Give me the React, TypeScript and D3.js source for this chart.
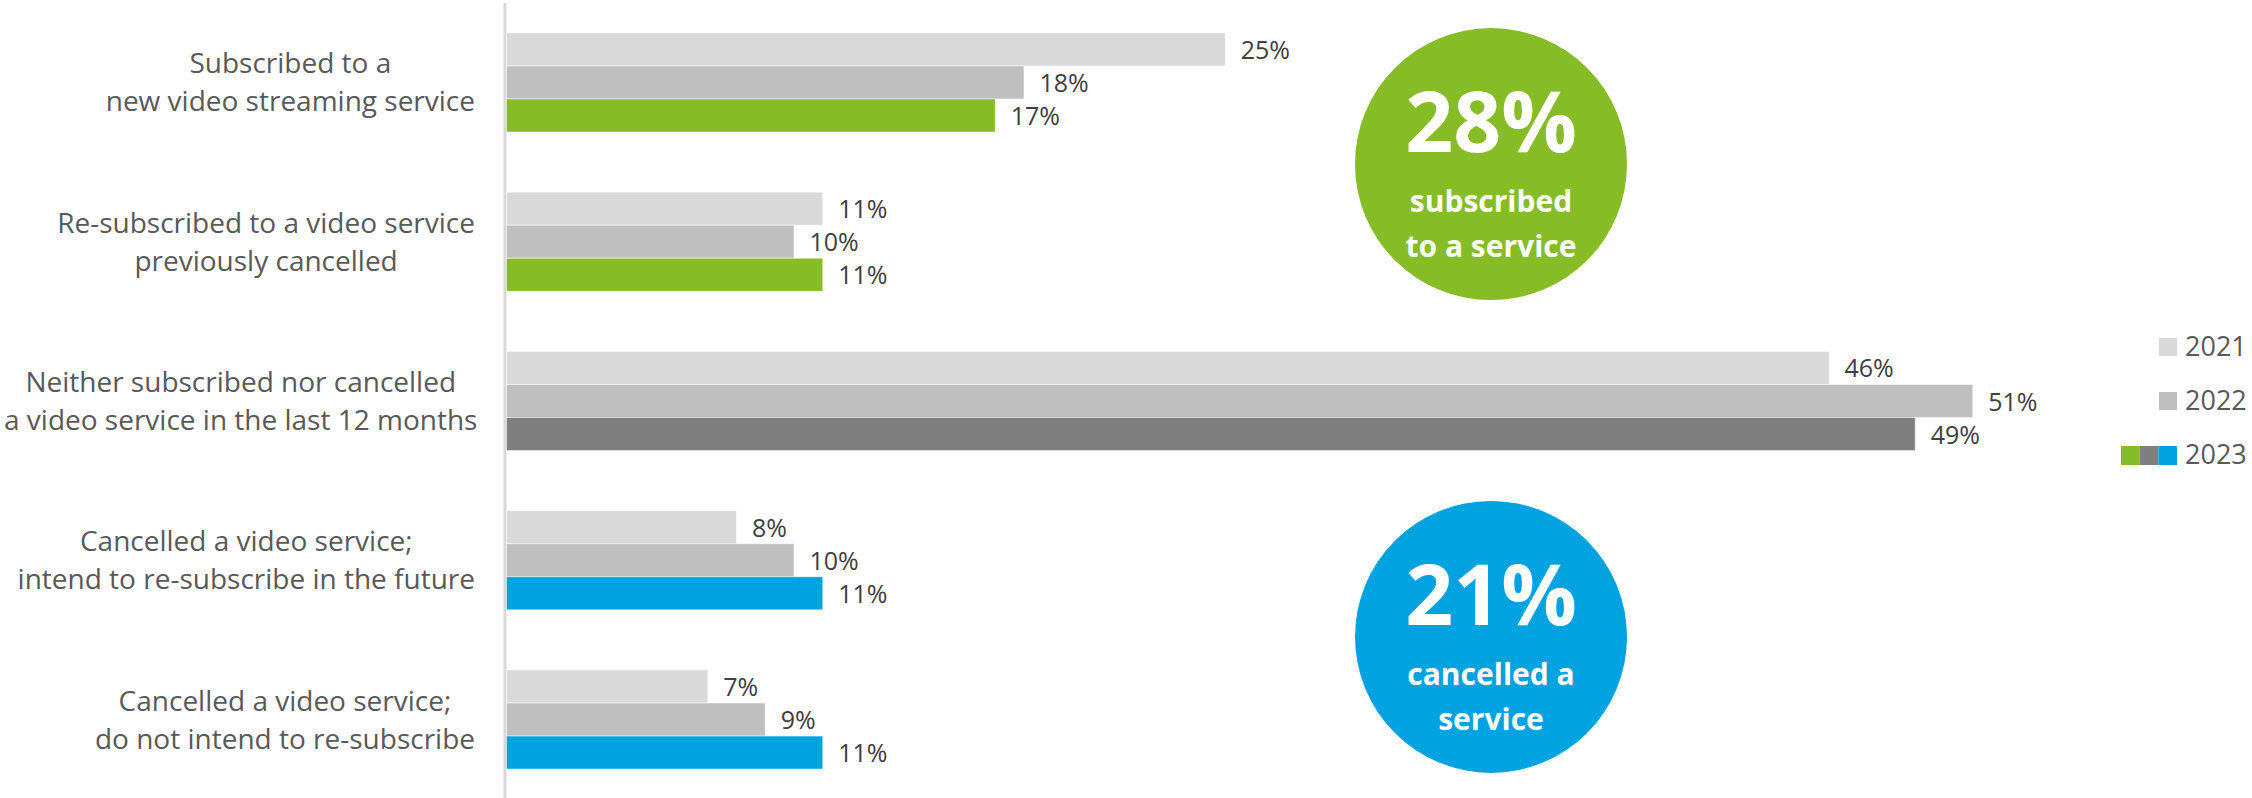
import React, { useEffect, useRef } from "react";
import * as d3 from "d3";

const categories = [
  ["Subscribed to a", "new video streaming service"],
  ["Re-subscribed to a video service", "previously cancelled"],
  ["Neither subscribed nor cancelled", "a video service in the last 12 months"],
  ["Cancelled a video service;", "intend to re-subscribe in the future"],
  ["Cancelled a video service;", "do not intend to re-subscribe"],
];
const series = ["2021", "2022", "2023"];
const values2021 = [25, 11, 46, 8, 7];
const values2022 = [18, 10, 51, 10, 9];
const values2023 = [17, 11, 49, 11, 11];
const colors2023 = ["#86bc25", "#86bc25", "#7f7f7f", "#00a3e0", "#00a3e0"];
const seriesColors = ["#d9d9d9", "#bfbfbf"];
const legendLabels = ["2021", "2022", "2023"];
const circleValues = ["28%", "21%"];
const circleTexts = [
  ["subscribed", "to a service"],
  ["cancelled a", "service"],
];
const circleColors = ["#86bc25", "#00a3e0"];

const W = 2252;
const H = 798;

export default function App() {
  const ref = useRef<SVGSVGElement | null>(null);

  useEffect(() => {
    document.body.style.margin = "0";
    const svg = d3.select(ref.current);
    svg.selectAll("*").remove();

    const font = "'Open Sans', sans-serif";
    const keys = categories.map((_, i) => String(i));
    const x = d3.scaleLinear().domain([0, 60]).range([506, 506 + 28.75 * 60]);
    const y = d3
      .scaleBand<string>()
      .domain(keys)
      .range([3, 799])
      .paddingInner(0.378)
      .paddingOuter(0.188);
    const ys = d3.scaleBand<string>().domain(series).range([0, y.bandwidth()]).padding(0);

    const data = [values2021, values2022, values2023];

    // axis line
    svg
      .append("line")
      .attr("x1", x(0) - 1)
      .attr("x2", x(0) - 1)
      .attr("y1", 3)
      .attr("y2", H)
      .attr("stroke", "#d9d9d9")
      .attr("stroke-width", 3);

    // bars
    const g = svg.append("g");
    keys.forEach((k, ci) => {
      series.forEach((s, si) => {
        const v = data[si][ci];
        const color = si < 2 ? seriesColors[si] : colors2023[ci];
        const y0 = (y(k) as number) + (ys(s) as number);
        g.append("rect")
          .attr("x", x(0) + 0.5)
          .attr("y", y0)
          .attr("width", x(v) - x(0))
          .attr("height", ys.bandwidth())
          .attr("fill", color)
          .attr("stroke", "#ffffff")
          .attr("stroke-opacity", 0.5)
          .attr("stroke-width", 1);
        g.append("text")
          .attr("x", x(v) + 16)
          .attr("y", y0 + ys.bandwidth() / 2 + 9.5)
          .attr("font-family", font)
          .attr("font-size", 25)
          .attr("fill", "#404040")
          .text(`${v}%`);
      });
    });

    // category labels (center-aligned block, right edge at 475)
    keys.forEach((k, ci) => {
      const cy = (y(k) as number) + y.bandwidth() / 2;
      const lines = categories[ci];
      const tg = svg.append("g");
      const texts = lines.map((line, li) =>
        tg
          .append("text")
          .attr("y", cy + (li - (lines.length - 1) / 2) * 38 + 10)
          .attr("font-family", font)
          .attr("font-size", 28)
          .attr("fill", "#595959")
          .attr("text-anchor", "middle")
          .text(line)
      );
      const maxW = d3.max(texts, (t) => (t.node() as SVGTextElement).getComputedTextLength()) || 0;
      const cxl = Math.max(475 - maxW / 2, maxW / 2 + 4);
      texts.forEach((t) => t.attr("x", cxl));
    });

    // circles
    const circleCenters = [
      ((y("0") as number) + (y("1") as number)) / 2 + y.bandwidth() / 2 + 2,
      ((y("3") as number) + (y("4") as number)) / 2 + y.bandwidth() / 2 - 3,
    ];
    circleCenters.forEach((cy, i) => {
      const cx = 1491;
      svg.append("circle").attr("cx", cx).attr("cy", cy).attr("r", 136).attr("fill", circleColors[i]);
      svg
        .append("text")
        .attr("x", cx)
        .attr("y", cy - 12)
        .attr("text-anchor", "middle")
        .attr("font-family", font)
        .attr("font-weight", 700)
        .attr("font-size", 84)
        .attr("fill", "#ffffff")
        .text(circleValues[i]);
      circleTexts[i].forEach((line, li) => {
        svg
          .append("text")
          .attr("x", cx)
          .attr("y", cy + 48 + li * 45)
          .attr("text-anchor", "middle")
          .attr("font-family", font)
          .attr("font-weight", 700)
          .attr("font-size", 30)
          .attr("fill", "#ffffff")
          .text(line);
      });
    });

    // legend
    const lg = svg.append("g");
    legendLabels.forEach((lab, i) => {
      const ty = 338 + i * 54;
      if (i < 2) {
        lg.append("rect").attr("x", 2159).attr("y", ty).attr("width", 18).attr("height", 18).attr("fill", seriesColors[i]);
      } else {
        const sw = d3.scaleBand<string>().domain(["a", "b", "c"]).range([2121, 2177]);
        ["#86bc25", "#7f7f7f", "#00a3e0"].forEach((c, j) => {
          lg.append("rect")
            .attr("x", sw(["a", "b", "c"][j]) as number)
            .attr("y", ty)
            .attr("width", sw.bandwidth())
            .attr("height", 19)
            .attr("fill", c);
        });
      }
      lg.append("text")
        .attr("x", 2185)
        .attr("y", ty + 18)
        .attr("font-family", font)
        .attr("font-size", 27)
        .attr("fill", "#595959")
        .text(lab);
    });
  }, []);

  return (
    <svg
      ref={ref}
      width={W}
      height={H}
      style={{ position: "absolute", left: 0, top: 0, background: "#ffffff", display: "block" }}
    />
  );
}
